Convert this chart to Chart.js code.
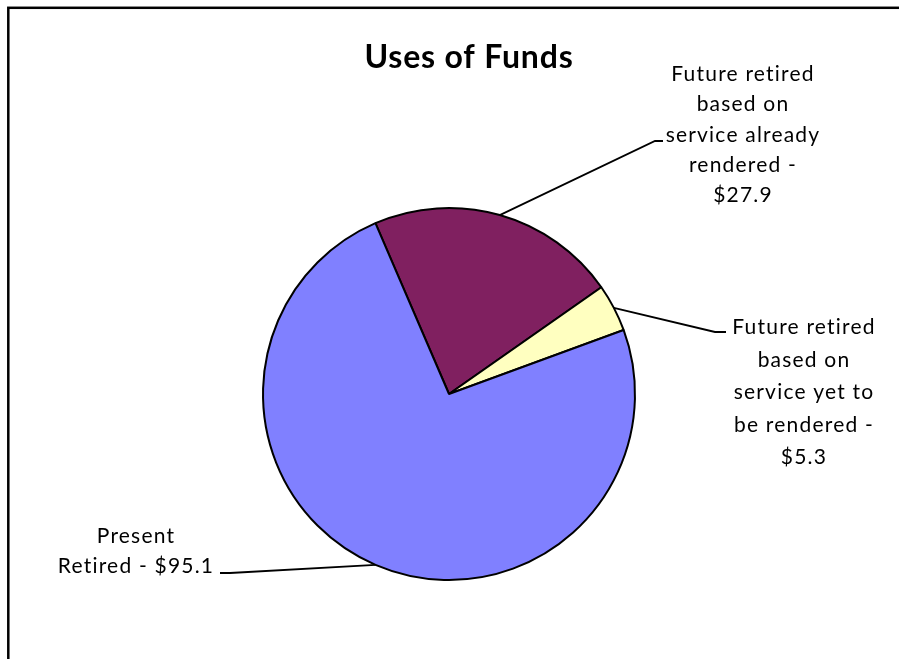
<!DOCTYPE html>
<html>
<head>
<meta charset="utf-8">
<title>Uses of Funds</title>
<script src="https://cdn.jsdelivr.net/npm/chart.js@4/dist/chart.umd.min.js"></script>
<style>
  html, body { margin: 0; padding: 0; background: #ffffff; }
  canvas { display: block; }
</style>
</head>
<body>
<canvas id="chart" width="899" height="659"></canvas>
<script>
// Uses of funds, in $ millions
const categories = [
  'Future retired based on service already rendered',
  'Future retired based on service yet to be rendered',
  'Present Retired'
];
const amounts = [27.9, 5.3, 95.1];
const sliceColors = ['#802060', '#FFFFC0', '#8080FF'];

const money = v => '$' + v.toFixed(1);

// Wrapped label text for each slice (value appended on the last line)
const labelLines = [
  ['Future retired', 'based on', 'service already', 'rendered -', money(amounts[0])],
  ['Future retired', 'based on', 'service yet to', 'be rendered -', money(amounts[1])],
  ['Present', 'Retired - ' + money(amounts[2])]
];

// Label placement: text centre x, first baseline, line step, leader elbow and end
const labelLayout = [
  { cx: 743, top: 81,  step: 30.3, elbowX: 655, endX: 663, endY: 141 },
  { cx: 804, top: 334, step: 32.5, elbowX: 715, endX: 726, endY: 332 },
  { cx: 136, top: 543, step: 30,   elbowX: 230, endX: 220, endY: 573 }
];

const FONT = 'Lato, "Open Sans", "DejaVu Sans", sans-serif';

const framePlugin = {
  id: 'frame',
  beforeDraw(chart) {
    const ctx = chart.ctx;
    ctx.save();
    ctx.fillStyle = '#ffffff';
    ctx.fillRect(0, 0, chart.width, chart.height);
    ctx.strokeStyle = '#000000';
    ctx.lineWidth = 2.5;
    ctx.strokeRect(8.3, 7.8, chart.width + 40, chart.height + 40);
    ctx.restore();
  }
};

const titlePlugin = {
  id: 'chartTitle',
  afterDraw(chart) {
    const ctx = chart.ctx;
    ctx.save();
    ctx.fillStyle = '#000000';
    ctx.font = 'bold 32px ' + FONT;
    ctx.letterSpacing = '0.8px';
    ctx.textAlign = 'center';
    ctx.textBaseline = 'alphabetic';
    ctx.fillText('Uses of Funds', 469, 68);
    ctx.restore();
  }
};

const leaderLabelPlugin = {
  id: 'leaderLabels',
  afterDatasetsDraw(chart) {
    const ctx = chart.ctx;
    const meta = chart.getDatasetMeta(0);
    ctx.save();
    meta.data.forEach((arc, i) => {
      const p = arc.getProps(['x', 'y', 'startAngle', 'endAngle', 'outerRadius'], true);
      const mid = (p.startAngle + p.endAngle) / 2;
      const sx = p.x + Math.cos(mid) * p.outerRadius;
      const sy = p.y + Math.sin(mid) * p.outerRadius;
      const L = labelLayout[i];
      ctx.strokeStyle = '#000000';
      ctx.lineWidth = 1.8;
      ctx.beginPath();
      ctx.moveTo(sx, sy);
      ctx.lineTo(L.elbowX, L.endY);
      ctx.lineTo(L.endX, L.endY);
      ctx.stroke();

      ctx.fillStyle = '#000000';
      ctx.font = '21px ' + FONT;
      ctx.letterSpacing = '1.2px';
      ctx.textAlign = 'center';
      ctx.textBaseline = 'alphabetic';
      labelLines[i].forEach((line, k) => {
        ctx.fillText(line, L.cx, L.top + k * L.step);
      });
    });
    ctx.restore();
  }
};

new Chart(document.getElementById('chart'), {
  type: 'pie',
  data: {
    labels: categories,
    datasets: [{
      data: amounts,
      backgroundColor: sliceColors,
      borderColor: '#000000',
      borderWidth: 2,
      hoverOffset: 0
    }]
  },
  options: {
    responsive: false,
    animation: false,
    rotation: -23.3,
    layout: { padding: { left: 262, right: 263, top: 207, bottom: 78 } },
    plugins: {
      legend: { display: false },
      title: { display: false },
      tooltip: { enabled: false }
    }
  },
  plugins: [framePlugin, titlePlugin, leaderLabelPlugin]
});
</script>
</body>
</html>
